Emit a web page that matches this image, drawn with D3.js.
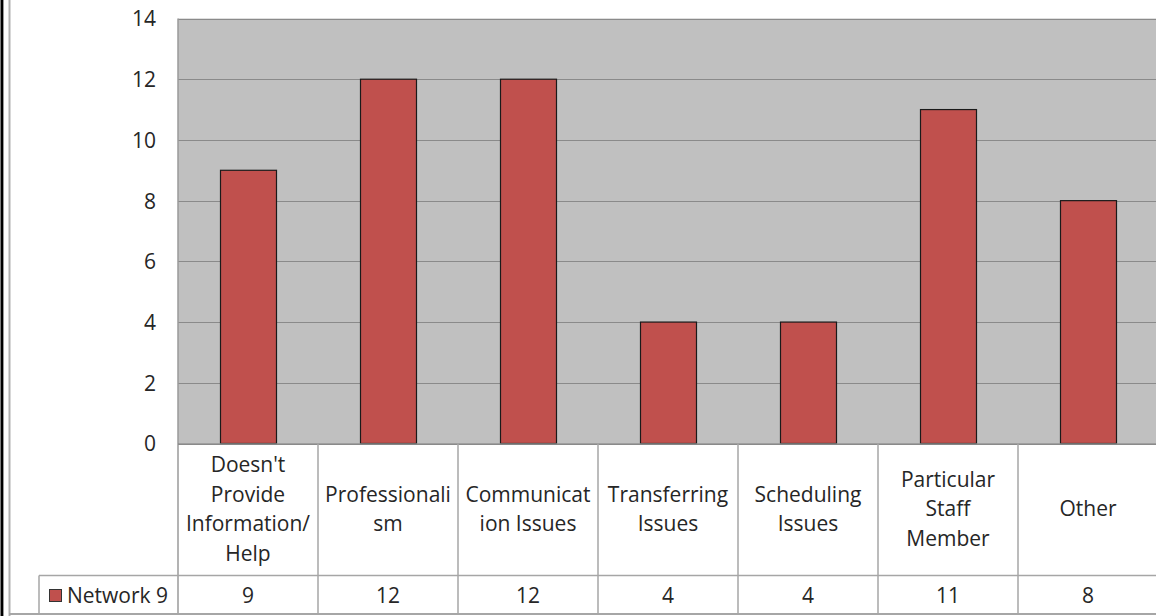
<!DOCTYPE html>
<html><head><meta charset="utf-8">
<script src="https://cdn.jsdelivr.net/npm/d3@7"></script>
<style>body{margin:0;background:#fff;}svg{display:block;}</style>
</head><body>
<svg id="c" width="1156" height="616"></svg>
<script>
const categories = ["Doesn't Provide Information/ Help","Professionalism","Communication Issues","Transferring Issues","Scheduling Issues","Particular Staff Member","Other"];
const categoryLines = [["Doesn't","Provide","Information/","Help"],["Professionali","sm"],["Communicat","ion Issues"],["Transferring","Issues"],["Scheduling","Issues"],["Particular","Staff","Member"],["Other"]];
const seriesName = "Network 9";
const values = [9,12,12,4,4,11,8];
const yTicks = [0,2,4,6,8,10,12,14];

const svg = d3.select("#c");
const L = 178, R = 1158, T = 18.5, B = 443.5;
const tableBottom = 614, rowSplit = 575.5, legendLeft = 39;
const font = "'Open Sans', sans-serif";
const fs = 21;
const tc = "#262626";

const x = d3.scaleBand().domain(categories).range([L, R]).paddingInner(0).paddingOuter(0);
const y = d3.scaleLinear().domain([0, 14]).range([B, T]);

// frame left border
svg.append("rect").attr("x",0.5).attr("y",0).attr("width",2.5).attr("height",616).attr("fill","#000");
svg.append("line").attr("x1",3.5).attr("x2",3.5).attr("y1",0).attr("y2",616).attr("stroke","#999");
svg.append("line").attr("x1",9.5).attr("x2",9.5).attr("y1",0).attr("y2",616).attr("stroke","#b0b0b0").attr("stroke-width",2);

// plot bg
svg.append("rect").attr("x",L).attr("y",T).attr("width",R-L).attr("height",B-T).attr("fill","#c0c0c0");

// gridlines
svg.append("g").selectAll("line").data(yTicks).join("line")
  .attr("x1",L).attr("x2",R).attr("y1",d=>Math.round(y(d))+0.5).attr("y2",d=>Math.round(y(d))+0.5)
  .attr("stroke","#8a8a8a").attr("stroke-width",1.2);

// y axis labels
const yAxis = d3.axisLeft(y).tickValues(yTicks).tickSize(0).tickPadding(0).tickFormat(d3.format("d"));
const ga = svg.append("g").attr("transform",`translate(${L-22},0)`).call(yAxis);
ga.select(".domain").remove();
ga.selectAll("text").attr("font-family",font).attr("font-size",fs).attr("fill",tc).attr("dy","0.35em");

// bars
const bw = x.bandwidth()*0.4;
svg.append("g").selectAll("rect").data(values).join("rect")
  .attr("x",(d,i)=>x(categories[i])+x.bandwidth()/2-bw/2+0.5)
  .attr("y",d=>y(d))
  .attr("width",bw).attr("height",d=>B-y(d))
  .attr("fill","#c0504d").attr("stroke","#1a1a1a").attr("stroke-width",1.2);

// plot left border
svg.append("line").attr("x1",L).attr("x2",L).attr("y1",T).attr("y2",tableBottom).attr("stroke","#9a9a9a").attr("stroke-width",1.5);

// table lines
const tcol = "#a6a6a6";
svg.append("line").attr("x1",L).attr("x2",1156).attr("y1",B+0.5).attr("y2",B+0.5).attr("stroke","#8a8a8a").attr("stroke-width",1.5);
svg.append("line").attr("x1",legendLeft).attr("x2",1156).attr("y1",rowSplit).attr("y2",rowSplit).attr("stroke",tcol).attr("stroke-width",1.5);
svg.append("line").attr("x1",9).attr("x2",1156).attr("y1",tableBottom).attr("y2",tableBottom).attr("stroke",tcol).attr("stroke-width",2);
svg.append("line").attr("x1",legendLeft).attr("x2",legendLeft).attr("y1",rowSplit).attr("y2",tableBottom).attr("stroke",tcol).attr("stroke-width",1.5);
svg.append("g").selectAll("line").data(categories.slice(1)).join("line")
  .attr("x1",d=>x(d)).attr("x2",d=>x(d)).attr("y1",B).attr("y2",tableBottom)
  .attr("stroke",tcol).attr("stroke-width",1.5);

// category labels
const lh = 29.5, cmid = 509;
categories.forEach((c,i)=>{
  const lines = categoryLines[i];
  const cx = x(c)+x.bandwidth()/2;
  const t = svg.append("text").attr("font-family",font).attr("font-size",fs).attr("fill",tc).attr("text-anchor","middle");
  lines.forEach((ln,j)=>{
    t.append("tspan").attr("x",cx).attr("y",cmid+(j-(lines.length-1)/2)*lh).attr("dy","0.35em").text(ln);
  });
});

// values row
svg.append("g").selectAll("text").data(values).join("text")
  .attr("x",(d,i)=>x(categories[i])+x.bandwidth()/2).attr("y",596).attr("dy","0.35em")
  .attr("text-anchor","middle").attr("font-family",font).attr("font-size",fs).attr("fill",tc)
  .text(d=>d);

// legend
svg.append("rect").attr("x",49.5).attr("y",589.5).attr("width",12).attr("height",12).attr("fill","#c0504d").attr("stroke","#333").attr("stroke-width",1);
svg.append("text").attr("x",67).attr("y",596).attr("dy","0.35em").attr("font-family",font).attr("font-size",fs).attr("fill",tc).text(seriesName);
</script>
</body></html>
